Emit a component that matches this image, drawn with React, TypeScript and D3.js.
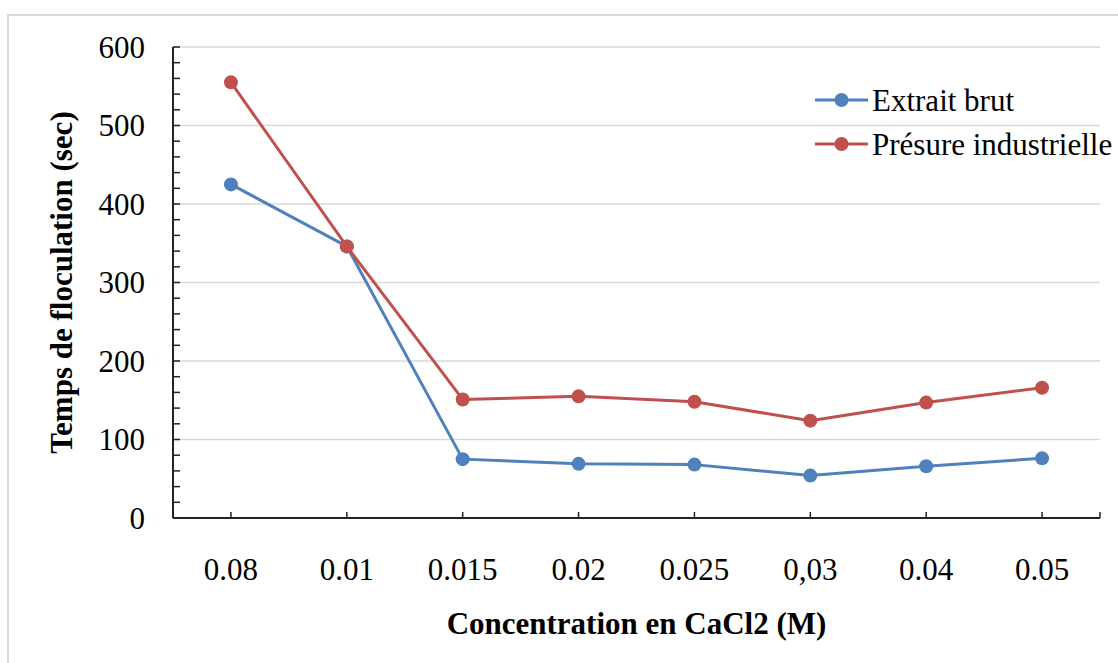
import React, { useEffect, useRef } from "react";
import * as d3 from "d3";

const categories = ["0.08", "0.01", "0.015", "0.02", "0.025", "0,03", "0.04", "0.05"];
const extraitBrut = [425, 346, 75, 69, 68, 54, 66, 76];
const presureIndustrielle = [555, 346, 151, 155, 148, 124, 147, 166];
const yTicks = [0, 100, 200, 300, 400, 500, 600];
const seriesNames = ["Extrait brut", "Présure industrielle"];
const seriesColors = ["#4f81bd", "#c0504d"];

export default function App() {
  const ref = useRef<SVGSVGElement | null>(null);

  useEffect(() => {
    const svg = d3.select(ref.current);
    svg.selectAll("*").remove();
    const left = 173, right = 1100, top = 47, bottom = 518;
    const font = "Liberation Serif, Tinos, Times New Roman, DejaVu Serif, serif";

    svg.append("rect").attr("x", 8).attr("y", 15).attr("width", 1120).attr("height", 660)
      .attr("fill", "#fff").attr("stroke", "#d9d9d9").attr("stroke-width", 2);

    const x = d3.scaleBand<string>().domain(categories).range([left, right]);
    const y = d3.scaleLinear().domain([0, 600]).range([bottom, top]);

    svg.append("g").selectAll("line").data(yTicks.filter(t => t > 0)).join("line")
      .attr("x1", left).attr("x2", right)
      .attr("y1", d => y(d)).attr("y2", d => y(d))
      .attr("stroke", "#d9d9d9").attr("stroke-width", 1.5);

    const minor = d3.range(0, 601, 20);
    svg.append("g").selectAll("line").data(minor).join("line")
      .attr("x1", left).attr("x2", left + 7)
      .attr("y1", d => y(d)).attr("y2", d => y(d))
      .attr("stroke", "#222").attr("stroke-width", 1.5);

    svg.append("line").attr("x1", left).attr("x2", left).attr("y1", top).attr("y2", bottom)
      .attr("stroke", "#222").attr("stroke-width", 2);
    svg.append("line").attr("x1", left).attr("x2", right).attr("y1", bottom).attr("y2", bottom)
      .attr("stroke", "#222").attr("stroke-width", 2);

    const xt = categories.map(c => (x(c) as number) + x.bandwidth() / 2).concat([right]);
    svg.append("g").selectAll("line").data(xt).join("line")
      .attr("x1", d => d).attr("x2", d => d)
      .attr("y1", bottom).attr("y2", bottom - 6)
      .attr("stroke", "#222").attr("stroke-width", 1.5);

    const txt = (sel: any, size: number, bold = false) =>
      sel.style("font-family", font).style("font-size", size + "px")
        .style("font-weight", bold ? "bold" : "normal").attr("fill", "#000");

    txt(svg.append("g").selectAll("text").data(yTicks).join("text")
      .attr("x", 145).attr("y", d => y(d)).attr("dy", "0.35em")
      .attr("text-anchor", "end").text(d => String(d)), 31);

    txt(svg.append("g").selectAll("text").data(categories).join("text")
      .attr("x", d => (x(d) as number) + x.bandwidth() / 2).attr("y", 580)
      .attr("text-anchor", "middle").text(d => d), 31);

    txt(svg.append("text").attr("x", (left + right) / 2).attr("y", 634)
      .attr("text-anchor", "middle").text("Concentration en CaCl2 (M)"), 31, true);
    txt(svg.append("text").attr("transform", `translate(72,${(top + bottom) / 2}) rotate(-90)`)
      .attr("text-anchor", "middle").text("Temps de floculation (sec)"), 31, true);

    const data = [extraitBrut, presureIndustrielle];
    const line = d3.line<number>()
      .x((_, i) => (x(categories[i]) as number) + x.bandwidth() / 2)
      .y(d => y(d));

    data.forEach((vals, si) => {
      svg.append("path").datum(vals).attr("d", line).attr("fill", "none")
        .attr("stroke", seriesColors[si]).attr("stroke-width", 3).attr("stroke-linejoin", "round");
      svg.append("g").selectAll("circle").data(vals).join("circle")
        .attr("cx", (_, i) => (x(categories[i]) as number) + x.bandwidth() / 2)
        .attr("cy", d => y(d)).attr("r", 7).attr("fill", seriesColors[si]);
    });

    seriesNames.forEach((name, i) => {
      const ly = 100 + i * 44;
      const g = svg.append("g");
      g.append("line").attr("x1", 815).attr("x2", 868).attr("y1", ly).attr("y2", ly)
        .attr("stroke", seriesColors[i]).attr("stroke-width", 3);
      g.append("circle").attr("cx", 841.5).attr("cy", ly).attr("r", 7).attr("fill", seriesColors[i]);
      txt(g.append("text").attr("x", 872).attr("y", ly).attr("dy", "0.35em").text(name), 31);
    });
  }, []);

  return (
    <svg ref={ref} width={1118} height={663}
      style={{ position: "absolute", left: 0, top: 0, background: "#fff" }} />
  );
}
